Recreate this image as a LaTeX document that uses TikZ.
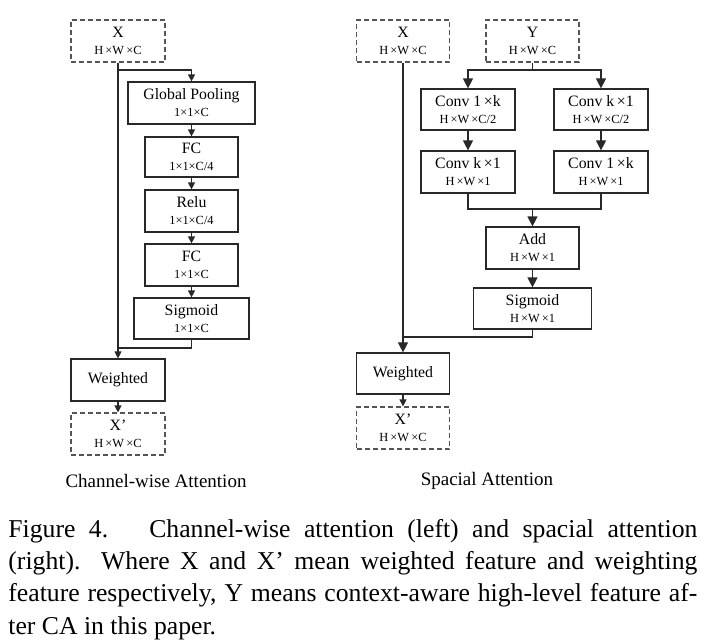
\documentclass[tikz,border=0pt]{standalone}
\usepackage{fontspec}
\setmainfont{Liberation Serif}
\usetikzlibrary{arrows.meta,positioning}
\definecolor{edge}{RGB}{40,40,40}
\definecolor{dashc}{RGB}{85,85,85}
\newcommand{\ttl}{\fontsize{7.9}{8.5}\selectfont}
\newcommand{\dimf}{\fontsize{6.2}{8.5}\selectfont}
\tikzset{
  blk/.style={draw=edge,line width=0.6pt,inner sep=0pt,align=center,font=\ttl},
  dblk/.style={blk,draw=dashc,dash pattern=on 2.5pt off 1.5pt},
  wire/.style={draw=edge,line width=0.6pt},
  sarr/.style={wire,-{Triangle[length=3.5pt,width=3.5pt]}},
  barr/.style={wire,-{Triangle[length=5pt,width=5pt]}},
}

\begin{document}
\begin{tikzpicture}[x=0.5pt,y=-0.5pt]
  \useasboundingbox (0,0) rectangle (708,639);
  % channel-wise attention
  \node[dblk,minimum width=47pt,minimum height=21pt] (xa) at (118,41) {X\\{\dimf H\,×W\,×C}};
  \node[blk,minimum width=63.5pt,minimum height=21pt] (gp) at (191.5,103) {Global Pooling\\{\dimf 1×1×C}};
  \node[blk,minimum width=46.5pt,minimum height=20pt] (fca) at (191.5,157) {FC\\{\dimf 1×1×C/4}};
  \node[blk,minimum width=46.5pt,minimum height=21pt] (relu) at (191.5,211) {Relu\\{\dimf 1×1×C/4}};
  \node[blk,minimum width=46.5pt,minimum height=21pt] (fcb) at (191.5,265) {FC\\{\dimf 1×1×C}};
  \node[blk,minimum width=57.5pt,minimum height=20.5pt] (siga) at (191.5,318.5) {Sigmoid\\{\dimf 1×1×C}};
  \node[blk,minimum width=47pt,minimum height=21pt] (wa) at (118,380) {Weighted};
  \node[dblk,minimum width=47pt,minimum height=21pt] (xpa) at (118,434) {X’\\{\dimf H\,×W\,×C}};
  \node[font=\fontsize{9.5}{11}\selectfont] (ta) at (156,481) {Channel-wise Attention};
  \coordinate (ja) at (118,70);
  \coordinate (ka) at (118,348);
  \draw[sarr] (xa.south) -- (wa.north);
  \draw[sarr] (ja) -| (gp.north);
  \draw[sarr] (gp) -- (fca);
  \draw[sarr] (fca) -- (relu);
  \draw[sarr] (relu) -- (fcb);
  \draw[sarr] (fcb) -- (siga);
  \draw[wire] (siga.south) |- (ka);
  \draw[sarr] (wa) -- (xpa);
  % spacial attention
  \node[dblk,minimum width=46.5pt,minimum height=21pt] (xb) at (403,41) {X\\{\dimf H\,×W\,×C}};
  \node[dblk,minimum width=46.5pt,minimum height=21pt] (yb) at (532.5,41) {Y\\{\dimf H\,×W\,×C}};
  \node[blk,minimum width=47pt,minimum height=20.5pt] (ca) at (468,109.5) {Conv 1\,×k\\{\dimf H\,×W\,×C/2}};
  \node[blk,minimum width=47pt,minimum height=20.5pt] (cb) at (601,109.5) {Conv k\,×1\\{\dimf H\,×W\,×C/2}};
  \node[blk,minimum width=47pt,minimum height=21pt] (cc) at (468,172) {Conv k\,×1\\{\dimf H\,×W\,×1}};
  \node[blk,minimum width=47pt,minimum height=21pt] (cd) at (601,172) {Conv 1\,×k\\{\dimf H\,×W\,×1}};
  \node[blk,minimum width=46.5pt,minimum height=21pt] (add) at (532.5,248) {Add\\{\dimf H\,×W\,×1}};
  \node[blk,minimum width=59pt,minimum height=20.5pt] (sigb) at (532.5,308.5) {Sigmoid\\{\dimf H\,×W\,×1}};
  \node[blk,minimum width=46.5pt,minimum height=20.5pt] (wb) at (403,373.5) {Weighted};
  \node[dblk,minimum width=46.5pt,minimum height=21pt] (xpb) at (403,428) {X’\\{\dimf H\,×W\,×C}};
  \node[font=\fontsize{9.5}{11}\selectfont] (tb) at (487,481) {Spacial Attention};
  \coordinate (jb) at (532.5,70);
  \coordinate (kb) at (532.5,209);
  \coordinate (mb) at (403,337);
  \draw[barr] (xb.south) -- (wb.north);
  \draw[wire] (yb.south) -- (jb);
  \draw[barr] (jb) -| (ca.north);
  \draw[barr] (jb) -| (cb.north);
  \draw[barr] (ca) -- (cc);
  \draw[barr] (cb) -- (cd);
  \draw[wire] (cc.south) |- (kb) -| (cd.south);
  \draw[barr] (kb) -- (add.north);
  \draw[barr] (add) -- (sigb);
  \draw[wire] (sigb.south) |- (mb);
  \draw[sarr] (wb) -- (xpb);
  % figure caption
  \node[anchor=north west,inner sep=0pt,text width=344.5pt,align=justify,
        font=\fontsize{12.85}{16.1}\selectfont] (cap) at (8,519)
    {Figure 4.\hspace{1.6em}Channel-wise attention (left) and spacial attention\linebreak
     (right).  Where X and X’ mean weighted feature and weighting\linebreak
     feature respectively, Y means context-aware high-level feature af-\linebreak
     ter CA in this paper.};
\end{tikzpicture}
\end{document}
